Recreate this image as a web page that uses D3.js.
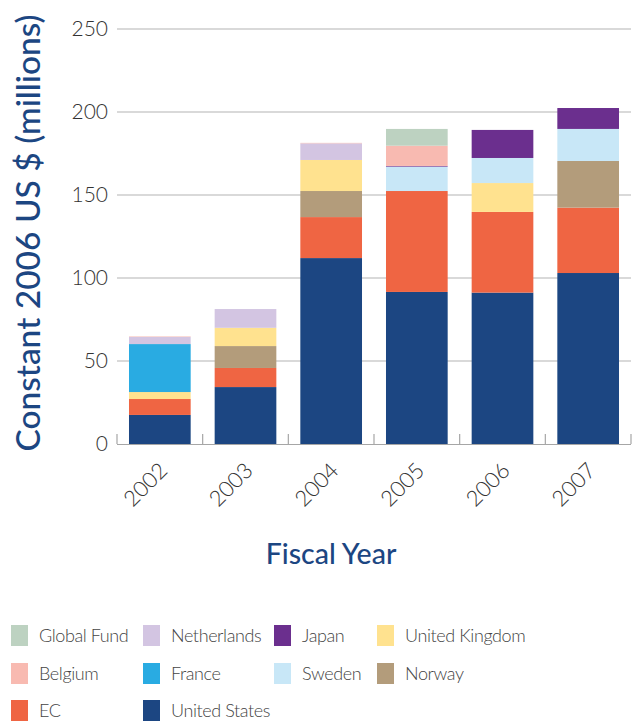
<!DOCTYPE html>
<html>
<head>
<meta charset="utf-8">
<script src="https://cdn.jsdelivr.net/npm/d3@7"></script>
<style>
  html, body { margin: 0; padding: 0; background: #fff; }
  svg { display: block; }
  text { font-family: Lato, "Open Sans", sans-serif; }
</style>
</head>
<body>
<svg id="chart" width="637" height="723"></svg>
<script>
// Fiscal years on the x axis
const years = ["2002", "2003", "2004", "2005", "2006", "2007"];

// Donors, listed from the bottom of each stack upward
const donors = ["United States", "EC", "Norway", "United Kingdom", "France",
                "Sweden", "Japan", "Netherlands", "Belgium", "Global Fund"];

// Funding per donor, constant 2006 US$ millions, one value per fiscal year
const unitedStates  = [17.5, 34.3, 112.0, 91.6, 91.2, 103.0];
const ec            = [9.6, 11.5, 24.7, 60.8, 48.6, 39.4];
const norway        = [0, 13.2, 15.7, 0, 0, 28.1];
const unitedKingdom = [4.2, 11.0, 18.7, 0, 17.4, 0];
const france        = [28.9, 0, 0, 0, 0, 0];
const sweden        = [0, 0, 0, 14.7, 15.1, 19.3];
const japan         = [0, 0, 0, 0.4, 16.9, 12.6];
const netherlands   = [4.3, 11.3, 10.0, 0, 0, 0];
const belgium       = [0.3, 0, 0.3, 12.2, 0, 0];
const globalFund    = [0, 0, 0, 10.1, 0, 0];

const yTicks = [0, 50, 100, 150, 200, 250];

// Legend entries in reading order (4 per row)
const legendOrder = ["Global Fund", "Netherlands", "Japan", "United Kingdom",
                     "Belgium", "France", "Sweden", "Norway",
                     "EC", "United States"];

const series = {
  "United States": unitedStates, "EC": ec, "Norway": norway,
  "United Kingdom": unitedKingdom, "France": france, "Sweden": sweden,
  "Japan": japan, "Netherlands": netherlands, "Belgium": belgium,
  "Global Fund": globalFund
};

const colors = {
  "United States": "#1c4682", "EC": "#ef6543", "Norway": "#b39c7b",
  "United Kingdom": "#ffe28f", "France": "#29abe2", "Sweden": "#c8e7f7",
  "Japan": "#6b2f8e", "Netherlands": "#d3c5e2", "Belgium": "#f8bab1",
  "Global Fund": "#bdd2c1"
};

const rows = years.map((y, i) => {
  const r = { year: y };
  donors.forEach(d => { r[d] = series[d][i]; });
  return r;
});

const svg = d3.select("#chart");
const margin = { left: 117, right: 6, top: 29, bottom: 279 };
const W = 637, H = 723;
const x0 = margin.left, x1 = W - margin.right;
const yBase = H - margin.bottom;

const x = d3.scaleBand().domain(years).range([x0, 631])
  .paddingInner(0.28).paddingOuter(0.14);
const y = d3.scaleLinear().domain([0, 250]).range([yBase, margin.top]);

// Horizontal gridlines
svg.append("g").selectAll("line").data(yTicks.filter(t => t > 0)).join("line")
  .attr("x1", x0).attr("x2", x1)
  .attr("y1", d => y(d)).attr("y2", d => y(d))
  .attr("stroke", "#b3b3b3").attr("stroke-width", 1.2);

// Y axis labels
const yAxis = d3.axisLeft(y).tickValues(yTicks).tickSize(0).tickPadding(9);
const gy = svg.append("g").attr("transform", `translate(${x0},0)`).call(yAxis);
gy.select(".domain").remove();
gy.selectAll("text")
  .attr("font-family", "Lato, sans-serif")
  .attr("font-weight", 300)
  .attr("font-size", 21).attr("fill", "#333");

// Stacked bars
const stack = d3.stack().keys(donors);
const layers = stack(rows);
svg.append("g").selectAll("g").data(layers).join("g")
  .attr("fill", d => colors[d.key])
  .selectAll("rect").data(d => d.filter(p => p[1] - p[0] > 0)).join("rect")
  .attr("x", d => x(d.data.year))
  .attr("width", x.bandwidth())
  .attr("y", d => y(d[1]))
  .attr("height", d => y(d[0]) - y(d[1]));

// X axis baseline and category separators
const step = x.step();
const bounds = d3.range(years.length + 1).map(i => x0 + i * step);
svg.append("line")
  .attr("x1", x0).attr("x2", x1).attr("y1", yBase + 0.5).attr("y2", yBase + 0.5)
  .attr("stroke", "#a6a6a6").attr("stroke-width", 1.2);
svg.append("g").selectAll("line").data(bounds).join("line")
  .attr("x1", d => d).attr("x2", d => d)
  .attr("y1", yBase).attr("y2", yBase - 10)
  .attr("stroke", "#a6a6a6").attr("stroke-width", 1.2);

// X axis labels, rotated
svg.append("g").selectAll("text").data(years).join("text")
  .attr("transform", d => `translate(${x(d) + x.bandwidth() / 2 - 2},${yBase + 17}) rotate(-45)`)
  .attr("text-anchor", "end")
  .attr("dy", "0.7em")
  .attr("font-weight", 300)
  .attr("font-size", 22).attr("fill", "#333")
  .text(d => d);

// Axis titles
svg.append("text")
  .attr("transform", `translate(40,233) rotate(-90)`)
  .attr("text-anchor", "middle")
  .attr("font-size", 33.5).attr("font-weight", 500)
  .attr("fill", "#1c4682")
  .text("Constant 2006 US $ (millions)");

svg.append("text")
  .attr("x", 331).attr("y", 564)
  .attr("text-anchor", "middle")
  .attr("font-size", 28.5).attr("font-weight", 500)
  .attr("fill", "#1c4682")
  .text("Fiscal Year");

// Legend
const colX = [11, 143, 274, 377];
const rowY = [625, 663, 700];
const lg = svg.append("g").selectAll("g").data(legendOrder).join("g")
  .attr("transform", (d, i) => `translate(${colX[i % 4]},${rowY[Math.floor(i / 4)]})`);
lg.append("rect").attr("width", 17).attr("height", 21).attr("fill", d => colors[d]);
lg.append("text").attr("x", 28).attr("y", 11).attr("dy", "0.35em")
  .attr("font-size", 18).attr("font-weight", 300).attr("fill", "#444")
  .attr("letter-spacing", -0.4)
  .text(d => d);
</script>
</body>
</html>
